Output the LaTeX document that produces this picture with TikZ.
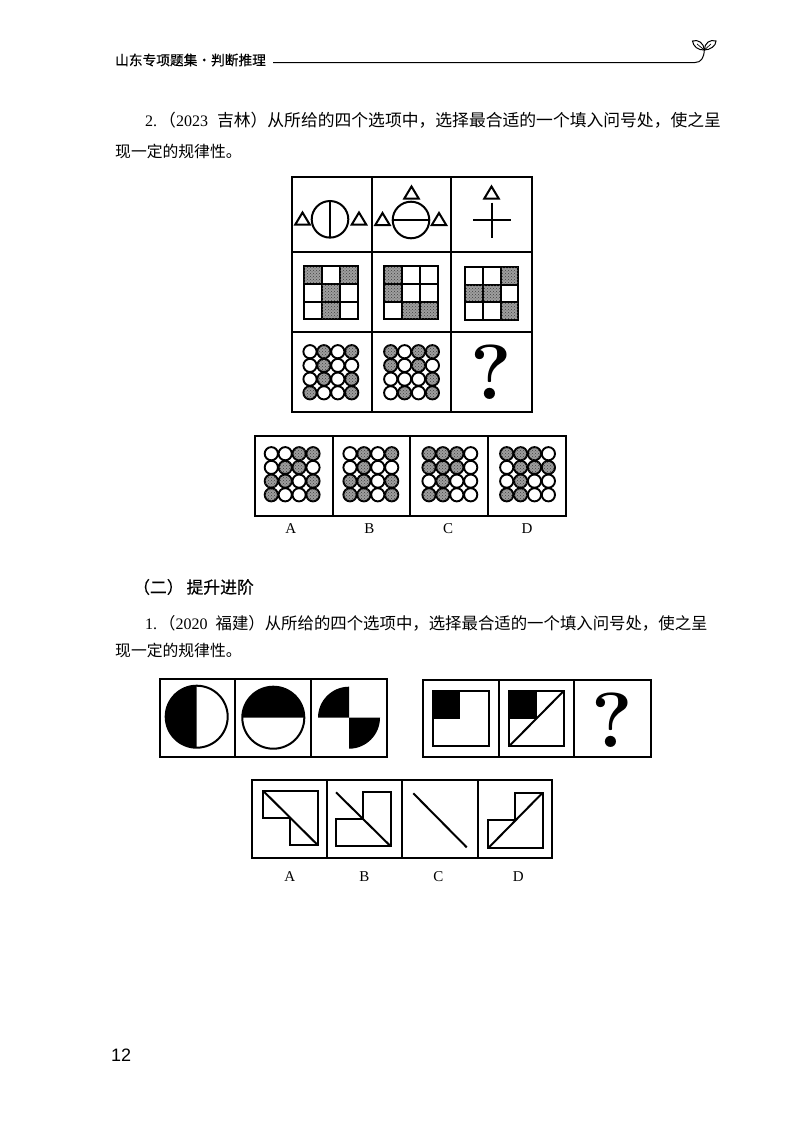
\documentclass[tikz,border=0pt]{standalone}
\usepackage{fontspec}
\usetikzlibrary{patterns}
\newfontfamily\cjk{Noto Sans CJK SC}
\newfontfamily\cjkm[FakeBold=0.35]{Noto Sans CJK SC}
\newfontfamily\arialf{Liberation Sans}
\newfontfamily\serf{Liberation Serif}
\definecolor{stip}{gray}{0.62}
\tikzset{
  stipple/.style={fill=stip,postaction={pattern=crosshatch dots,pattern color=black!75}},
  thick box/.style={draw=black,line width=2pt,fill=white},
  divider/.style={draw=black,line width=2pt},
  fig line/.style={draw=black,line width=2pt},
  inner line/.style={draw=black,line width=2pt},
  b0/.style={draw=black,line width=1.9pt,fill=white},
  b1/.style={draw=black,line width=1.9pt,stipple},
  cell0/.style={draw=black,line width=2pt,fill=white},
  cell1/.style={draw=black,line width=2pt,stipple},
  body text/.style={anchor=west,inner sep=0pt,font=\cjk\fontsize{15.8}{18}\selectfont},
  opt label/.style={inner sep=0pt,font=\serf\fontsize{15}{16}\selectfont},
  qmark/.style={inner sep=0pt,font=\normalfont\bfseries\fontsize{78}{80}\selectfont},
}
\newcommand{\latin}[1]{{\serf\fontsize{16}{18}\selectfont #1}}
\newcommand{\ballgrid}[3]{% x0, y0, rows
  \foreach \a/\b/\c/\d [count=\j from 0] in {#3}{
    \foreach \v [count=\i from 0] in {\a,\b,\c,\d}{
      \draw[b\v] ({#1+13.9*\i},{#2+13.7*\j}) circle[radius=6.6pt];
    }
  }
}
\newcommand{\cellgrid}[3]{% x0, y0, rows
  \foreach \a/\b/\c [count=\j from 0] in {#3}{
    \foreach \v [count=\i from 0] in {\a,\b,\c}{
      \draw[cell\v] ({#1+17.8*\i},{#2+17.8*\j}) rectangle ++(17.8,17.8);
    }
  }
}
\newcommand{\tri}[2]{% apex-centred triangle: x, base y
  \draw[fig line,line join=miter] ({#1-7.2},#2) -- ({#1+7.2},#2) -- (#1,{#2-12}) -- cycle;
}
\begin{document}
\begin{tikzpicture}[x=1pt,y=-1pt]
\useasboundingbox (0,0) rectangle (800,1130);
\fill[white] (0,0) rectangle (800,1130);

% header
\node[anchor=west,inner sep=0pt,font=\cjkm\fontsize{13.7}{16}\selectfont] (head) at (115,60) {山东专项题集·判断推理};
\coordinate (ruleL) at (273,62.5);
\coordinate (ruleR) at (695,62.5);
\coordinate (sprout) at (704.3,50);
\draw[line width=1pt] (ruleL) -- (ruleR) .. controls (701,62.5) and (704,58) .. (sprout);
\draw[line width=1pt] (sprout) .. controls (698,50.5) and (693,46) .. (692.5,41) .. controls (698,39) and (704,43) .. (sprout);
\draw[line width=1pt] (sprout) .. controls (710,50) and (716,46) .. (716,41) .. controls (710,39) and (704.5,43) .. (sprout);
\draw[line width=0.7pt] (sprout) -- (697,44);
\draw[line width=0.7pt] (sprout) -- (711,44);

% question 2
\node[body text,font=\cjk\fontsize{16.8}{18}\selectfont] (q2a) at (145,120) {\latin{2.}\hspace{2pt}（\latin{2023}\hspace{9pt}吉林）从所给的四个选项中，选择最合适的一个填入问号处，使之呈};
\node[body text] (q2b) at (115,151) {现一定的规律性。};

% main 3x3 grid
\draw[thick box] (291.7,176.7) rectangle (531.7,411.7);
\draw[divider] (371.7,176.7) -- (371.7,411.7);
\draw[divider] (450.7,176.7) -- (450.7,411.7);
\draw[divider] (291.7,251.7) -- (531.7,251.7);
\draw[divider] (291.7,332.3) -- (531.7,332.3);

% row 1
\draw[fig line] (330,219.3) circle[radius=18.3pt];
\draw[fig line] (330,201) -- (330,237.6);
\tri{302.5}{224.5}
\tri{359}{224.5}
\draw[fig line] (411,220) circle[radius=18.3pt];
\draw[fig line] (392.7,220) -- (429.3,220);
\tri{411.5}{198.5}
\tri{382.5}{225}
\tri{439}{225}
\tri{491.5}{198.5}
\draw[fig line] (491.5,202.5) -- (491.5,238);
\draw[fig line] (473,220) -- (511,220);

% row 2
\cellgrid{304.3}{266}{1/0/1,0/1/0,0/1/0}
\cellgrid{384.3}{266}{1/0/0,1/0/0,0/1/1}
\cellgrid{465}{266.7}{0/0/1,1/1/0,0/0/1}

% row 3
\ballgrid{310}{351.7}{0/1/0/1,0/1/0/0,0/1/0/1,1/0/0/1}
\ballgrid{390.7}{351.7}{1/0/1/1,1/0/1/0,0/0/0/1,0/1/0/1}
\node[qmark] (q1) at (491,372) {?};

% options row 1
\draw[thick box] (255,435.7) rectangle (565.7,515.7);
\draw[divider] (332.7,435.7) -- (332.7,515.7);
\draw[divider] (410,435.7) -- (410,515.7);
\draw[divider] (488,435.7) -- (488,515.7);
\ballgrid{271.3}{453.7}{0/0/1/1,0/1/1/0,1/1/0/1,1/0/0/1}
\ballgrid{350}{453.7}{0/1/0/1,0/1/0/0,1/1/0/1,1/1/0/1}
\ballgrid{429}{453.7}{1/1/1/0,1/1/1/0,0/1/0/0,1/1/0/0}
\ballgrid{506.7}{453.7}{1/1/1/0,0/1/1/1,0/1/0/0,1/1/0/0}
\node[opt label] (la) at (290.7,529) {A};
\node[opt label] (lb) at (369.3,529) {B};
\node[opt label] (lc) at (448,529) {C};
\node[opt label] (ld) at (527,529) {D};

% section heading
\node[anchor=west,inner sep=0pt,font=\cjkm\fontsize{16.8}{18}\selectfont] (sec) at (133,587) {（二）\hspace{3pt}提升进阶};

% question 1
\node[body text,font=\cjk\fontsize{16.4}{18}\selectfont] (q1a) at (145,623) {\latin{1.}\hspace{2pt}（\latin{2020}\hspace{8pt}福建）从所给的四个选项中，选择最合适的一个填入问号处，使之呈};
\node[body text] (q1b) at (115,650) {现一定的规律性。};

% left strip
\draw[thick box] (160,679) rectangle (387.3,756.7);
\draw[divider] (235.3,679) -- (235.3,756.7);
\draw[divider] (311,679) -- (311,756.7);
\draw[fig line] (196.7,716.7) circle[radius=31pt];
\fill (196.7,685.7) arc[start angle=90,end angle=270,radius=31pt] -- cycle;
\draw[fig line] (273.3,717.7) circle[radius=31pt];
\fill (242.3,717.7) arc[start angle=180,end angle=0,radius=31pt] -- cycle;
\fill (349,717.7) -- (349,686.7) arc[start angle=90,end angle=180,radius=31pt] -- cycle;
\fill (349,717.7) -- (349,748.7) arc[start angle=270,end angle=360,radius=31pt] -- cycle;

% right strip
\draw[thick box] (423.3,679.7) rectangle (650.7,756.7);
\draw[divider] (499.3,679.7) -- (499.3,756.7);
\draw[divider] (574.3,679.7) -- (574.3,756.7);
\fill (433.3,690.7) rectangle (460.3,718.7);
\draw[inner line] (433.3,690.7) rectangle (488.7,746);
\fill (509,690.7) rectangle (537.3,718.7);
\draw[inner line] (509,690.7) rectangle (564,746.3);
\draw[fig line] (509,746.3) -- (564,690.7);
\node[qmark] (q2) at (612,720) {?};

% options row 2
\draw[thick box] (251.7,779.7) rectangle (551.7,857.7);
\draw[divider] (327,779.7) -- (327,857.7);
\draw[divider] (402.3,779.7) -- (402.3,857.7);
\draw[divider] (477.7,779.7) -- (477.7,857.7);
\draw[inner line] (263.3,791) -- (318,791) -- (318,845.3) -- (289.7,845.3) -- (289.7,818) -- (263.3,818) -- cycle;
\draw[fig line] (263.3,791) -- (318,845.3);
\draw[inner line] (363.3,819) -- (363.3,791.7) -- (391,791.7) -- (391,846.3) -- (336,846.3) -- (336,819) -- cycle;
\draw[fig line] (336,792.3) -- (390.7,846.3);
\draw[fig line] (413.3,793.3) -- (466.7,847.3);
\draw[inner line] (515.3,820.3) -- (515.3,792.7) -- (542.7,792.7) -- (542.7,848) -- (488.3,848) -- (488.3,820.3) -- cycle;
\draw[fig line] (488.3,848) -- (542.7,792.7);
\node[opt label] (ma) at (289.7,877) {A};
\node[opt label] (mb) at (364.3,877) {B};
\node[opt label] (mc) at (438.3,877) {C};
\node[opt label] (md) at (518.3,877) {D};

% page number
\node[anchor=west,inner sep=0pt,font=\arialf\fontsize{18}{20}\selectfont] (pg) at (111,1055) {12};
\end{tikzpicture}
\end{document}
